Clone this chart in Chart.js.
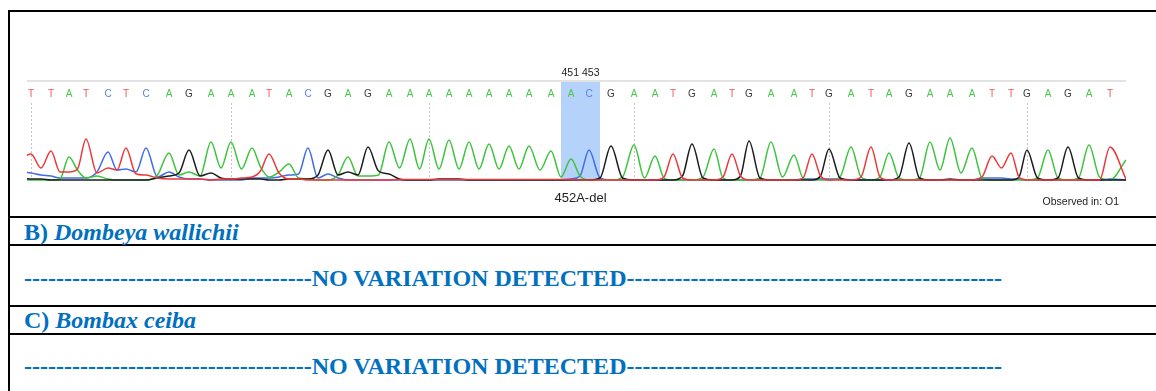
<!DOCTYPE html>
<html>
<head>
<meta charset="utf-8">
<script src="https://cdn.jsdelivr.net/npm/chart.js@4"></script>
<style>
  html, body { margin: 0; padding: 0; background: #fff; }
  body { width: 1156px; height: 391px; position: relative; overflow: hidden; }
  .hl { position: absolute; left: 8px; width: 1148px; height: 2px; background: #000; }
  .vl { position: absolute; left: 8px; top: 10px; width: 2px; height: 381px; background: #000; }
  .row { position: absolute; left: 24px; font-family: "Liberation Serif", "Times New Roman", serif;
         font-weight: bold; font-size: 24px; line-height: 24px; color: #0070c0; white-space: pre; }
  .row i { font-style: italic; }
  #wrap { position: absolute; left: 10px; top: 12px; width: 1146px; height: 204px; }
</style>
</head>
<body>
<div class="vl"></div>
<div class="hl" style="top:10px"></div>
<div class="hl" style="top:216px"></div>
<div class="hl" style="top:244px"></div>
<div class="hl" style="top:305px"></div>
<div class="hl" style="top:333px"></div>

<div id="wrap"><canvas id="trace" width="1146" height="204"></canvas></div>

<div class="row" id="rowB" style="top:220px"></div>
<div class="row" id="rowB2" style="top:266px"></div>
<div class="row" id="rowC" style="top:308px"></div>
<div class="row" id="rowC2" style="top:354px"></div>

<script>
// base calls and their peak locations (scan units)
const calls = 'TTATCTCAGAAATACGAGAAAAAAAAAACGAATGATGAATGATAGAAATTGAGAT'.split('');
const basePos = [4, 24, 42, 59, 81, 99, 119, 142, 162, 184,
  204, 225, 242, 262, 281, 301, 321, 341, 362, 383,
  402, 422, 442, 462, 482, 502, 524, 544, 562, 584,
  607, 628, 646, 665, 687, 705, 722, 744, 767, 785,
  802, 824, 844, 862, 882, 903, 923, 945, 965, 984,
  1000, 1021, 1041, 1062, 1083];
const leadScan = -6;
const trailScan = 1099;

// signal at each peak location
const peakA = [1, 1, 24, 3, 2, 1, 1, 28, 9, 39,
  39, 33, 4, 17, 2, 1, 24, 5, 39, 42,
  42, 41, 39, 37, 35, 35, 30, 22, 1, 1,
  36, 25, 1, 1, 32, 1, 1, 39, 26, 1,
  1, 34, 1, 28, 1, 39, 43, 33, 1, 1,
  1, 31, 1, 36, 1];
const peakC = [8, 5, 3, 3, 29, 12, 33, 9, 2, 1,
  1, 3, 3, 6, 33, 7, 1, 1, 1, 1,
  1, 1, 1, 1, 1, 1, 1, 2, 31, 1,
  1, 1, 1, 1, 1, 1, 1, 1, 1, 2,
  2, 1, 1, 1, 1, 1, 1, 1, 3, 2,
  1, 1, 1, 1, 2];
const peakG = [2, 1, 1, 1, 1, 1, 1, 5, 31, 8,
  2, 2, 1, 2, 2, 31, 9, 34, 7, 1,
  1, 2, 1, 1, 1, 1, 1, 1, 1, 35,
  1, 1, 1, 37, 1, 1, 40, 1, 1, 1,
  32, 1, 1, 1, 38, 1, 2, 1, 1, 1,
  31, 1, 34, 1, 1];
const peakT = [27, 30, 9, 42, 13, 33, 6, 2, 2, 1,
  2, 4, 27, 2, 1, 1, 1, 1, 1, 1.5,
  1.5, 1.5, 1.5, 1.5, 1.5, 1.5, 1.5, 1.5, 1, 1,
  1, 1, 27, 1, 1, 27, 1, 1, 1, 27,
  1, 1, 34, 1, 1, 1, 1, 1, 25, 28,
  1, 1, 1, 1, 34];

// signal between peaks (lead, 54 gaps, trail)
const dipA = [1, 1, 2, 11, 5, 1, 1, 6, 6, 5,
  13, 12, 14, 9, 3, 1, 6, 5, 6, 13,
  12, 12, 12, 12, 12, 12, 11, 4, 5, 1,
  4, 3, 3, 1, 4, 3, 1, 3, 4, 3,
  1, 4, 4, 4, 3, 3, 11, 8, 3, 1,
  1, 3, 3, 3, 4, 21];
const dipC = [9, 6, 3, 3, 9, 11, 9, 4, 4, 2,
  1, 1, 3, 4, 7, 3, 3, 1, 1, 1,
  1, 1, 1, 1, 1, 1, 1, 1, 5, 3,
  1, 1, 1, 1, 1, 1, 1, 1, 1, 2,
  2, 2, 1, 1, 1, 1, 1, 1, 3, 3,
  2, 1, 1, 1, 1, 1];
const dipG = [3, 2, 1, 1, 1, 1, 1, 3, 8, 5,
  3, 2, 2, 1, 2, 6, 6, 6, 10, 2,
  1, 2, 2, 1, 1, 1, 1, 1, 1, 3,
  3, 1, 1, 5, 3, 1, 5, 3, 1, 1,
  5, 3, 1, 1, 4, 3, 1, 1, 1, 1,
  4, 3, 3, 3, 1, 1];
const dipT = [22, 13, 9, 12, 8, 11, 7, 3, 2, 2,
  2, 3, 10, 8, 2, 1, 1, 1, 1, 1.5,
  1.5, 1.5, 1.5, 1.5, 1.5, 1.5, 1.5, 1.5, 1, 1,
  1, 1, 4, 3, 1, 4, 5, 1, 1, 3,
  5, 1, 4, 4, 1, 1, 1, 1, 4, 13,
  4, 1, 1, 1, 1, 2];

const variantBases = [27, 28];
const markLabel = '451 453';
const variantLabel = '452A-del';
const observedLabel = 'Observed in: O1';

const traceColor = { A: 'rgb(60,196,60)', C: 'rgb(66,108,230)', G: 'rgb(28,28,28)', T: 'rgb(238,56,56)' };
const letterColor = { A: '#48c848', C: '#5a80e8', G: '#3a3a3a', T: '#f25a5a' };

function tracePoints(peaks, dips) {
  const pts = [{ x: leadScan, y: dips[0] }];
  basePos.forEach((p, i) => {
    pts.push({ x: p, y: peaks[i] });
    if (i < basePos.length - 1) pts.push({ x: (p + basePos[i + 1]) / 2, y: dips[i + 1] });
  });
  pts.push({ x: trailScan, y: dips[dips.length - 1] });
  return pts;
}

function channel(label, peaks, dips) {
  return {
    label: label,
    data: tracePoints(peaks, dips),
    borderColor: traceColor[label],
    borderWidth: 1.5,
    pointRadius: 0,
    fill: false,
    cubicInterpolationMode: 'monotone'
  };
}

const decor = {
  id: 'decor',
  beforeDatasetsDraw(chart) {
    const { ctx, chartArea: a, scales: { x } } = chart;
    const v0 = variantBases[0], v1 = variantBases[1];
    const left = x.getPixelForValue((basePos[v0 - 1] + basePos[v0]) / 2);
    const right = x.getPixelForValue((basePos[v1] + basePos[v1 + 1]) / 2);
    ctx.save();
    ctx.fillStyle = '#b4d2fa';
    ctx.fillRect(left, a.top, right - left, a.height);
    ctx.fillStyle = '#e2e2e2';
    ctx.fillRect(a.left, a.top - 1, a.width, 2);
    ctx.strokeStyle = '#c4c4c4';
    ctx.lineWidth = 1;
    ctx.setLineDash([2, 2]);
    basePos.forEach((p, i) => {
      if (i % 10 !== 0) return;
      const px = Math.round(x.getPixelForValue(p)) + 0.5;
      ctx.beginPath();
      ctx.moveTo(px, a.top + 22);
      ctx.lineTo(px, a.bottom);
      ctx.stroke();
    });
    ctx.restore();
  },
  afterDatasetsDraw(chart) {
    const { ctx, chartArea: a, scales: { x } } = chart;
    ctx.save();
    ctx.textAlign = 'center';
    ctx.textBaseline = 'alphabetic';
    ctx.font = '10px "Liberation Sans", Arial, sans-serif';
    calls.forEach((b, i) => {
      ctx.fillStyle = letterColor[b];
      ctx.fillText(b, x.getPixelForValue(basePos[i]), a.top + 16);
    });
    const v0 = variantBases[0], v1 = variantBases[1];
    const mid = (x.getPixelForValue((basePos[v0 - 1] + basePos[v0]) / 2) +
                 x.getPixelForValue((basePos[v1] + basePos[v1 + 1]) / 2)) / 2;
    ctx.fillStyle = '#222';
    ctx.font = '10.5px "Liberation Sans", Arial, sans-serif';
    ctx.fillText(markLabel, mid, a.top - 5);
    ctx.font = '13px "Liberation Sans", Arial, sans-serif';
    ctx.fillText(variantLabel, mid, a.bottom + 21);
    ctx.textAlign = 'right';
    ctx.font = '10.5px "Liberation Sans", Arial, sans-serif';
    ctx.fillText(observedLabel, a.right - 7, a.bottom + 24);
    ctx.restore();
  }
};

const config = {
  type: 'line',
  data: {
    datasets: [
      channel('T', peakT, dipT),
      channel('G', peakG, dipG),
      channel('A', peakA, dipA),
      channel('C', peakC, dipC)
    ]
  },
  options: {
    responsive: false,
    animation: false,
    layout: { padding: { left: 17, right: 30, top: 69, bottom: 35 } },
    scales: {
      x: { type: 'linear', min: 0, max: 1099, display: false },
      y: { min: 0, max: 100, display: false }
    },
    plugins: { legend: { display: false }, tooltip: { enabled: false } }
  },
  plugins: [decor]
};

new Chart(document.getElementById('trace'), config);

// text rows of the table
const species = ['Dombeya wallichii', 'Bombax ceiba'];
const rowLetters = ['B)', 'C)'];
const resultText = 'NO VARIATION DETECTED';
const dashLeft = 36, dashRight = 47;

document.getElementById('rowB').innerHTML = rowLetters[0] + ' <i>' + species[0] + '</i>';
document.getElementById('rowC').innerHTML = rowLetters[1] + ' <i>' + species[1] + '</i>';
const resultLine = '-'.repeat(dashLeft) + resultText + '-'.repeat(dashRight);
document.getElementById('rowB2').textContent = resultLine;
document.getElementById('rowC2').textContent = resultLine;
</script>
</body>
</html>
